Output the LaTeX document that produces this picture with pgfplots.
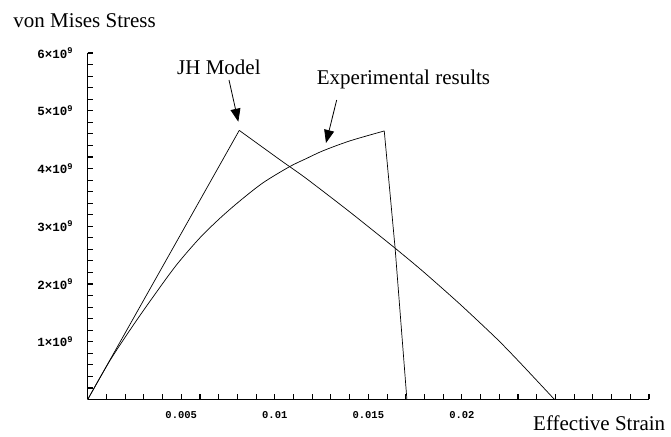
\documentclass[border=0pt]{standalone}
\usepackage{fontspec}
\setmainfont{Liberation Serif}
\newfontfamily\tickfont{Liberation Mono}
\usepackage{pgfplots}
\pgfplotsset{compat=1.18}
\usetikzlibrary{arrows.meta}

\newcommand{\ytl}[1]{#1\texttimes10\textsuperscript{9}}

\begin{document}
\begin{tikzpicture}
% page frame
\path (0,0) rectangle (671bp,437bp);
\begin{axis}[
  at={(87.7bp,37.5bp)}, anchor=south west,
  scale only axis, width=561.3bp, height=346.5bp,
  xmin=0, xmax=0.03, ymin=0, ymax=6e9,
  axis lines*=left,
  axis line style={line width=0.9bp},
  scaled x ticks=false, scaled y ticks=false,
  xtick={0.001,0.002,0.003,0.004,0.005,0.006,0.007,0.008,0.009,0.010,
         0.011,0.012,0.013,0.014,0.015,0.016,0.017,0.018,0.019,0.020,
         0.021,0.022,0.023,0.024,0.025,0.026,0.027,0.028,0.029,0.030},
  xticklabels={,,,,0.005,,,,,0.01,,,,,0.015,,,,,0.02,,,,,,,,,,},
  ytick={2e8,4e8,6e8,8e8,1e9,1.2e9,1.4e9,1.6e9,1.8e9,2e9,2.2e9,2.4e9,2.6e9,2.8e9,3e9,
         3.2e9,3.4e9,3.6e9,3.8e9,4e9,4.2e9,4.4e9,4.6e9,4.8e9,5e9,5.2e9,5.4e9,5.6e9,5.8e9,6e9},
  yticklabels={,,,,\ytl{1},,,,,\ytl{2},,,,,\ytl{3},,,,,\ytl{4},,,,,\ytl{5},,,,,\ytl{6}},
  xtick align=inside, ytick align=inside,
  major tick length=5bp,
  every tick/.style={black, line width=1.1bp},
  xticklabel style={font=\tickfont\bfseries\fontsize{10.5bp}{12bp}\selectfont, yshift=-8bp},
  yticklabel style={font=\tickfont\bfseries\fontsize{12.5bp}{14bp}\selectfont, xshift=-11bp},
  clip=false,
]
% JH model
\addplot[black, line width=0.7bp] coordinates {
  (0,0) (0.0081,4.66e9)
};
\addplot[black, line width=0.7bp, smooth, tension=0.4] coordinates {
  (0.0081,4.66e9) (0.01028,4.15e9) (0.01167,3.83e9) (0.0140,3.25e9)
  (0.01643,2.62e9) (0.01795,2.21e9) (0.0199,1.65e9) (0.02187,1.05e9)
  (0.0231,0.64e9) (0.02495,0)
};
% experimental results
\addplot[black, line width=0.7bp, smooth, tension=0.5] coordinates {
  (0,0) (0.0012,0.68e9) (0.0024,1.27e9) (0.00348,1.77e9) (0.00472,2.32e9)
  (0.00597,2.79e9) (0.00704,3.13e9) (0.0081,3.43e9) (0.00936,3.75e9)
  (0.01078,4.03e9) (0.01167,4.17e9) (0.0126,4.31e9) (0.01403,4.48e9)
  (0.01585,4.65e9)
};
\addplot[black, line width=0.7bp] coordinates {
  (0.01585,4.65e9) (0.01643,2.62e9) (0.01706,0)
};
\end{axis}
\node[anchor=base west, inner sep=0, font=\fontsize{21bp}{24bp}\selectfont] at (13.3bp,409bp) {von Mises Stress};
\node[anchor=base west, inner sep=0, font=\fontsize{21bp}{24bp}\selectfont] at (533bp,7bp) {Effective Strain};
\node[anchor=base west, inner sep=0, font=\fontsize{21bp}{24bp}\selectfont] at (177bp,362bp) {JH Model};
\node[anchor=base west, inner sep=0, font=\fontsize{21bp}{24bp}\selectfont] at (316.7bp,352.7bp) {Experimental results};
\draw[-{Triangle[length=13bp,width=10bp]}, line width=0.8bp] (229bp,357bp) -- (238.3bp,315.3bp);
\draw[-{Triangle[length=13bp,width=10bp]}, line width=0.8bp] (336.7bp,337bp) -- (326bp,294bp);
\end{tikzpicture}
\end{document}
